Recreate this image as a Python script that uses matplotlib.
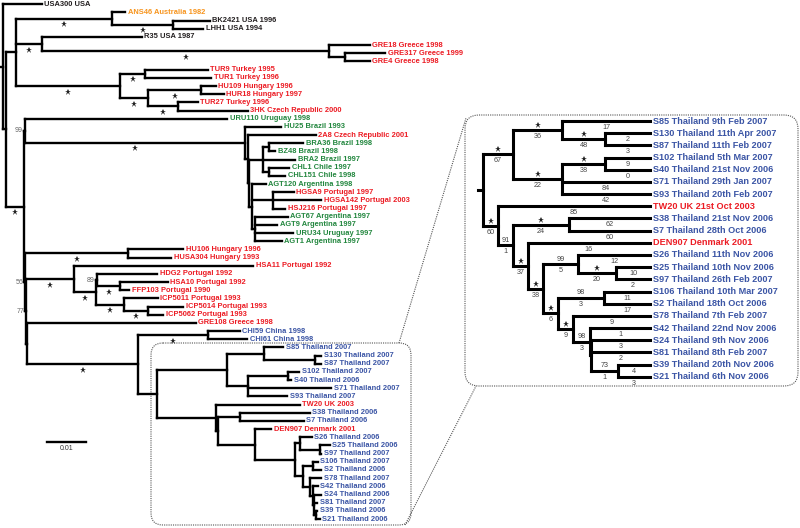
import matplotlib.pyplot as plt
from matplotlib.patches import FancyBboxPatch

plt.rcParams['font.family'] = ['Liberation Sans', 'DejaVu Sans']

# ---- main tree: internal nodes (x in px along the distance axis, 0.01 = 39 px) ----
node_name = ['R', 'B', 'C', 'ANS', 'BL', 'RG', 'GR', 'GRs', 'TUR', 'T1', 'T2', 'HH', 'T3',
             'D', 'N1', 'BR', 'BR2', 'BR3', 'Q', 'QA', 'QC', 'S', 'P', 'S2',
             'N2', 'HU', 'N3', 'PT', 'PT2', 'PT3', 'HF', 'ICP', 'ICPb', 'N4', 'CT', 'CH']
node_parent = [None, 'R', 'B', 'C', 'ANS', 'C', 'RG', 'GR', 'C', 'TUR', 'TUR', 'T2', 'T2',
               'B', 'D', 'N1', 'BR', 'BR2', 'BR3', 'Q', 'Q', 'BR3', 'S', 'S',
               'D', 'N2', 'N2', 'N3', 'PT', 'PT2', 'PT3', 'PT2', 'ICP', 'N3', 'N4', 'CT']
node_x = [3.3, 6, 16, 112, 173, 42, 329, 345, 120, 145, 148, 201, 178,
          24, 25, 245, 248, 249, 263, 269, 269, 252, 273, 255,
          25, 128, 26, 74, 96, 97, 120, 124, 148, 27, 138, 208]

# bootstrap values printed at a few deep nodes, and branches marked with a star
support_node = ['N1', 'N2', 'N3', 'PT3']
support_value = ['99', '56', '77', '89']
star_main = ['ANS', 'BL', 'RG', 'GR', 'TUR', 'T1', 'T2', 'HH', 'T3', 'D', 'BR', 'HU',
             'PT', 'PT2', 'HF', 'ICP', 'ICPb', 'CT', 'CH']

# ---- main tree leaves, top to bottom (Thai clade follows separately) ----
leaf_label = ['USA300 USA', 'ANS46 Australia 1982', 'BK2421 USA 1996', 'LHH1 USA 1994',
              'R35 USA 1987', 'GRE18 Greece 1998', 'GRE317 Greece 1999', 'GRE4 Greece 1998',
              'TUR9 Turkey 1995', 'TUR1 Turkey 1996', 'HU109 Hungary 1996', 'HUR18 Hungary 1997',
              'TUR27 Turkey 1996', '3HK Czech Republic 2000', 'URU110 Uruguay 1998',
              'HU25 Brazil 1993', '2A8 Czech Republic 2001', 'BRA36 Brazil 1998', 'BZ48 Brazil 1998',
              'BRA2 Brazil 1997', 'CHL1 Chile 1997', 'CHL151 Chile 1998', 'AGT120 Argentina 1998',
              'HGSA9 Portugal 1997', 'HGSA142 Portugal 2003', 'HSJ216 Portugal 1997',
              'AGT67 Argentina 1997', 'AGT9 Argentina 1997', 'URU34 Uruguay 1997',
              'AGT1 Argentina 1997', 'HU106 Hungary 1996', 'HUSA304 Hungary 1993',
              'HSA11 Portugal 1992', 'HDG2 Portugal 1992', 'HSA10 Portugal 1992',
              'FFP103 Portugal 1990', 'ICP5011 Portugal 1993', 'ICP5014 Portugal 1993',
              'ICP5062 Portugal 1993', 'GRE108 Greece 1998', 'CHI59 China 1998', 'CHI61 China 1998']
leaf_parent = ['R', 'ANS', 'BL', 'BL', 'RG', 'GR', 'GRs', 'GRs', 'T1', 'T1', 'HH', 'HH',
               'T3', 'T3', 'N1', 'BR', 'BR2', 'QA', 'QA', 'Q', 'QC', 'QC', 'S',
               'P', 'P', 'P', 'S2', 'S2', 'S2', 'S2', 'HU', 'HU', 'PT', 'PT3', 'HF', 'HF',
               'ICP', 'ICPb', 'ICPb', 'N4', 'CH', 'CH']
leaf_tip = [42, 125, 210, 203, 142, 370, 385, 370, 208, 211, 216, 224, 198, 248, 227,
            281, 316, 303, 275, 295, 289, 285, 266, 294, 321, 285, 288, 277, 293, 282,
            183, 171, 253, 157, 168, 129, 158, 183, 163, 196, 240, 247]
leaf_group = ['k', 'o', 'k', 'k', 'k', 'r', 'r', 'r', 'r', 'r', 'r', 'r', 'r', 'r', 'g',
              'g', 'r', 'g', 'g', 'g', 'g', 'g', 'g', 'r', 'r', 'r', 'g', 'g', 'g', 'g',
              'r', 'r', 'r', 'r', 'r', 'r', 'r', 'r', 'r', 'r', 'b', 'b']

# ---- Thai clade: same topology in the main tree and in the enlarged panel ----
thai_node = ['TH', 'A', 'A1', 'A1a', 'A2', 'A2a', 'TB', 'TC', 'C1', 'TD',
             'E', 'E1', 'E1a', 'F', 'F1', 'G', 'H', 'H2', 'H1']
thai_parent = ['CT', 'TH', 'A', 'A1', 'A', 'A2', 'TH', 'TB', 'TC', 'TC',
               'TD', 'E', 'E1', 'E', 'F', 'F', 'G', 'H', 'H2']
thai_x_main = [157, 227, 264, 315, 248, 288, 216, 218, 240, 255,
               295, 300, 320, 303, 313, 310, 313, 314, 316]
thai_x_zoom = [483, 513, 562, 605, 562, 605, 498, 513, 569, 528,
               543, 578, 616, 558, 604, 573, 590, 591, 618]
thai_above = ['', '*', '*', '*', '*', '*', '*', '91', '*', '*',
              '*', '99', '*', '*', '98', '*', '98', '', '73']
thai_below = ['', '67', '36', '48', '22', '38', '60', '1', '24', '37',
              '38', '5', '20', '6', '3', '9', '3', '', '1']

thai_leaf = ['S85 Thailand 9th Feb 2007', 'S130 Thailand 11th Apr 2007',
             'S87 Thailand 11th Feb 2007', 'S102 Thailand 5th Mar 2007',
             'S40 Thailand 21st Nov 2006', 'S71 Thailand 29th Jan 2007',
             'S93 Thailand 20th Feb 2007', 'TW20 UK 21st Oct 2003',
             'S38 Thailand 21st Nov 2006', 'S7 Thailand 28th Oct 2006',
             'DEN907 Denmark 2001', 'S26 Thailand 11th Nov 2006',
             'S25 Thailand 10th Nov 2006', 'S97 Thailand 26th Feb 2007',
             'S106 Thailand 10th Mar 2007', 'S2 Thailand 18th Oct 2006',
             'S78 Thailand 7th Feb 2007', 'S42 Thailand 22nd Nov 2006',
             'S24 Thailand 9th Nov 2006', 'S81 Thailand 8th Feb 2007',
             'S39 Thailand 20th Nov 2006', 'S21 Thailand 6th Nov 2006']
thai_leaf_parent = ['A1', 'A1a', 'A1a', 'A2a', 'A2a', 'A2', 'A2', 'TB', 'C1', 'C1', 'TD',
                    'E1', 'E1a', 'E1a', 'F1', 'F1', 'G', 'H', 'H2', 'H2', 'H1', 'H1']
thai_tip_main = [283, 321, 321, 299, 291, 331, 287, 300, 310, 304, 271,
                 312, 330, 321, 318, 321, 321, 318, 321, 317, 317, 320]
thai_tip_zoom = 650
thai_leaf_below = ['17', '2', '3', '9', '0', '84', '42', '85', '62', '60', '16',
                   '12', '10', '2', '11', '17', '9', '1', '3', '2', '4', '3']

colors = {'k': '#231f20', 'o': '#f7941d', 'r': '#ec1c24', 'g': '#23873f', 'b': '#3b55a5'}


def layout(leaves, leaf_par, node_par, y0, dy):
    kids = {}
    for n, p in list(zip(leaves, leaf_par)) + list(node_par.items()):
        if p is not None:
            kids.setdefault(p, []).append(n)
    ys = {n: y0 + i * dy for i, n in enumerate(leaves)}

    def fill(n):
        if n not in ys:
            cy = [fill(c) for c in kids[n]]
            ys[n] = (min(cy) + max(cy)) / 2
        return ys[n]
    for n in kids:
        fill(n)
    return kids, ys


def draw(ax, kids, xs, ys, lw):
    for n, ch in kids.items():
        cy = [ys[c] for c in ch]
        ax.plot([xs[n], xs[n]], [min(cy), max(cy)], color='k', lw=lw,
                solid_capstyle='projecting')
        for c in ch:
            ax.plot([xs[n], xs[c]], [ys[c], ys[c]], color='k', lw=lw,
                    solid_capstyle='projecting')


fig = plt.figure(figsize=(8, 5.28), dpi=100)
ax = fig.add_axes([0, 0, 1, 1])
ax.set_xlim(0, 800)
ax.set_ylim(528, 0)
ax.axis('off')

# ---------------- main tree ----------------
short = [' '.join([l.split()[0], l.split()[1], l.split()[-1]]) for l in thai_leaf]
thai_group = ['b' if 'Thailand' in l else 'r' for l in thai_leaf]
all_leaves = leaf_label + short
all_par = leaf_parent + thai_leaf_parent
all_tip = leaf_tip + thai_tip_main
all_group = leaf_group + thai_group

npar = dict(zip(node_name, node_parent))
npar.update(dict(zip(thai_node, thai_parent)))
kids, ys = layout(all_leaves, all_par, npar, 4.3, 8.17)
xs = dict(zip(node_name, node_x))
xs.update(dict(zip(thai_node, thai_x_main)))
xs.update(dict(zip(all_leaves, all_tip)))
parent_of = dict(npar)
parent_of.update(dict(zip(all_leaves, all_par)))

draw(ax, kids, xs, ys, 1.7)
ax.plot([0, xs['R']], [ys['R'], ys['R']], color='k', lw=1.7)

for lab, g in zip(all_leaves, all_group):
    ax.text(xs[lab] + 2.5, ys[lab], lab, ha='left', va='center', fontsize=5.4,
            weight='bold', color=colors[g])

for n in star_main:
    mx = (xs[parent_of[n]] + xs[n]) / 2
    ax.plot(mx, ys[n] + 5.5, marker='*', ms=4.8, color='#222', mew=0)

for n, v in zip(support_node, support_value):
    ax.text(xs[n] - 2, ys[n], v, ha='right', va='center', fontsize=5, color='#666')

# scale bar
ax.plot([47, 47 + 0.01 * 3900], [442, 442], color='k', lw=1.7)
ax.text(47 + 0.005 * 3900, 449, '0.01', ha='center', va='center', fontsize=5, color='#333')

# ---------------- enlarged Thai panel ----------------
zpar = dict(zip(thai_node, thai_parent))
zpar['TH'] = None
zkids, zys = layout(thai_leaf, thai_leaf_parent, zpar, 121, 12.18)
zxs = dict(zip(thai_node, thai_x_zoom))
zxs.update({l: thai_tip_zoom for l in thai_leaf})
zparent = dict(zpar)
zparent.update(dict(zip(thai_leaf, thai_leaf_parent)))

draw(ax, zkids, zxs, zys, 2.2)
ax.plot([zxs['TH'] - 5, zxs['TH']], [zys['TH'], zys['TH']], color='k', lw=2.2)

for lab, g in zip(thai_leaf, thai_group):
    ax.text(thai_tip_zoom + 3, zys[lab], lab, ha='left', va='center', fontsize=6.6,
            weight='bold', color=colors[g])

for n, top, bot in zip(thai_node, thai_above, thai_below):
    if zparent[n] is None:
        continue
    mx = (zxs[zparent[n]] + zxs[n]) / 2
    if top == '*':
        ax.plot(mx, zys[n] - 5, marker='*', ms=5, color='#222', mew=0)
    elif top:
        ax.text(mx, zys[n] - 5, top, ha='center', va='center', fontsize=5.2, color='#444')
    if bot:
        ax.text(mx, zys[n] + 6.5, bot, ha='center', va='center', fontsize=5.2, color='#444')

for lab, bot in zip(thai_leaf, thai_leaf_below):
    mx = (zxs[zparent[lab]] + thai_tip_zoom) / 2
    ax.text(mx, zys[lab] + 6.5, bot, ha='center', va='center', fontsize=5.2, color='#444')

# dotted boxes and connectors
box_style = dict(fill=False, ls=(0, (1, 1)), lw=0.8, ec='#555')
ax.add_patch(FancyBboxPatch((151, 343), 260, 182, boxstyle='round,pad=0,rounding_size=12',
                            **box_style))
ax.add_patch(FancyBboxPatch((465, 115), 333, 271, boxstyle='round,pad=0,rounding_size=14',
                            **box_style))
ax.plot([399, 466], [343, 118], color='#555', lw=0.8, ls=(0, (1, 1)))
ax.plot([405, 476], [525, 386], color='#555', lw=0.8, ls=(0, (1, 1)))

fig.savefig('out.png', dpi=100)
